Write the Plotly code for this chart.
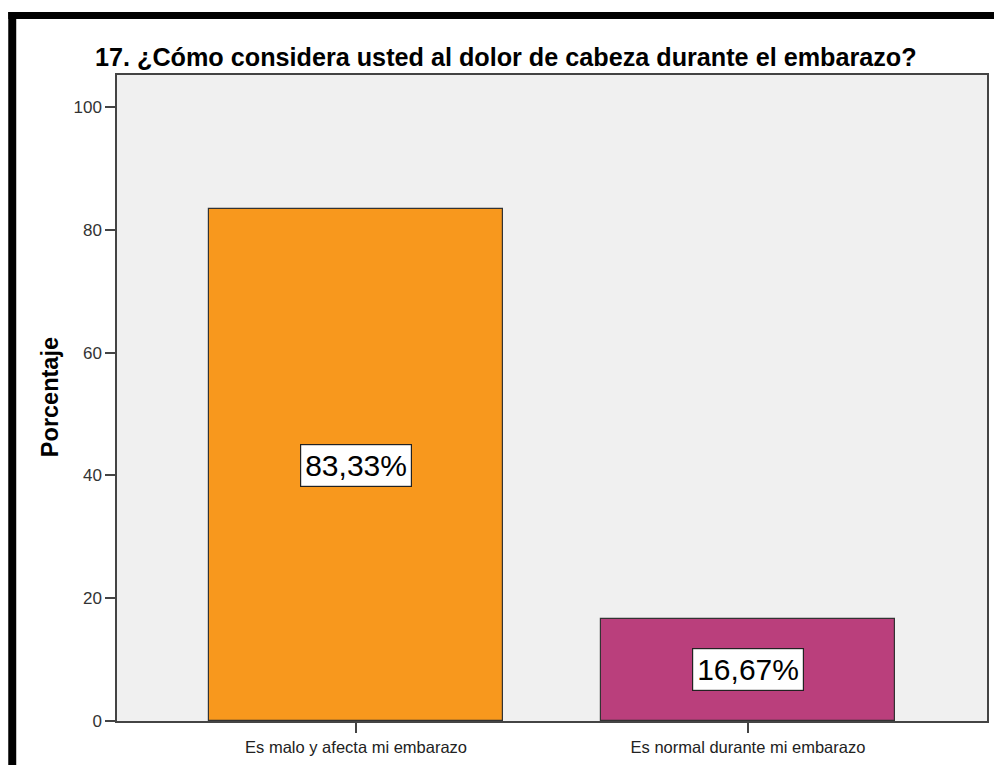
import plotly.graph_objects as go

categories = ["Es malo y afecta mi embarazo", "Es normal durante mi embarazo"]
values = [83.33, 16.67]
labels = ["83,33%", "16,67%"]
colors = ["#F8981D", "#BA3F7C"]
title_text = "17. ¿Cómo considera usted al dolor de cabeza durante el embarazo?"
y_ticks = [0, 20, 40, 60, 80, 100]

W, H = 994, 765
L, R, T, B = 117, 5, 75, 44
pw, ph = W - L - R, H - T - B

def px_x(x):
    return (x - L) / pw

def px_y(y):
    return (H - B - y) / ph

FONT = "Liberation Sans, Arial"

fig = go.Figure()
fig.add_trace(go.Bar(
    x=[0, 1], y=values, width=0.75,
    marker=dict(color=colors, line=dict(color="#333333", width=1.2)),
    hoverinfo="skip",
))

annotations = []
for i, (v, lab) in enumerate(zip(values, labels)):
    annotations.append(dict(
        x=i, y=v / 2, xref="x", yref="y", text=lab, showarrow=False,
        font=dict(family=FONT, size=30, color="#000000"),
        bgcolor="#FFFFFF", bordercolor="#222222", borderwidth=1.2, borderpad=4,
    ))
annotations.append(dict(
    x=px_x(507), y=px_y(57), xref="paper", yref="paper", text="<b>" + title_text + "</b>",
    showarrow=False, xanchor="center", yanchor="middle",
    font=dict(family=FONT, size=25.2, color="#000000"),
))
annotations.append(dict(
    x=px_x(50), y=px_y(397), xref="paper", yref="paper", text="<b>Porcentaje</b>",
    showarrow=False, textangle=-90, xanchor="center", yanchor="middle",
    font=dict(family=FONT, size=23.5, color="#000000"),
))

shapes = [
    dict(type="rect", xref="paper", yref="paper", x0=px_x(8), x1=px_x(16), y0=px_y(770), y1=px_y(12),
         fillcolor="#000000", line=dict(width=0), layer="above"),
    dict(type="rect", xref="paper", yref="paper", x0=px_x(8), x1=px_x(1000), y0=px_y(19), y1=px_y(12),
         fillcolor="#000000", line=dict(width=0), layer="above"),
]

fig.update_layout(
    width=W, height=H,
    margin=dict(l=L, r=R, t=T, b=B, pad=0),
    paper_bgcolor="#FFFFFF", plot_bgcolor="#F0F0F0",
    showlegend=False, annotations=annotations, shapes=shapes,
    bargap=0,
)
fig.update_xaxes(
    range=[-0.61, 1.61], tickvals=[0, 1], ticktext=categories,
    ticks="outside", ticklen=10, tickcolor="#444444", tickwidth=1.5,
    showline=True, linecolor="#444444", linewidth=1.5, mirror=True,
    showgrid=False, zeroline=False,
    tickfont=dict(family=FONT, size=16.5, color="#222222"),
)
fig.update_yaxes(
    range=[0, 105.2], tickvals=y_ticks,
    ticks="outside", ticklen=10, tickcolor="#444444", tickwidth=1.5,
    showline=True, linecolor="#444444", linewidth=1.5, mirror=True,
    showgrid=False, zeroline=False,
    tickfont=dict(family=FONT, size=17, color="#333333"),
)

fig.write_html(
    "out.html",
    config={"displayModeBar": False},
    post_script="document.body.style.margin='0';document.body.style.overflow='hidden';",
)
